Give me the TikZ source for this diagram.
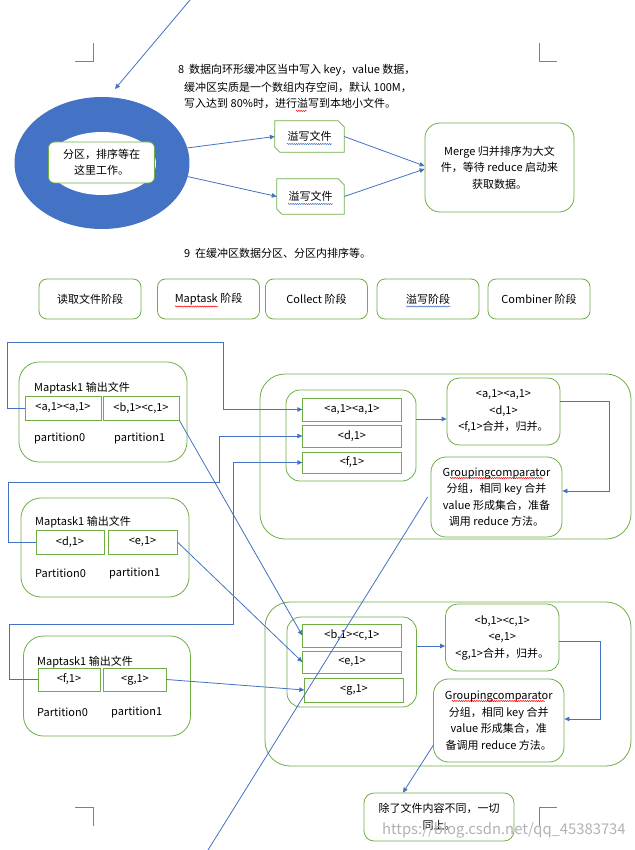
\documentclass[tikz,border=0pt]{standalone}
\usepackage{fontspec}
\setmainfont{Noto Sans CJK SC}
\usetikzlibrary{shapes.geometric,arrows.meta,decorations.pathmorphing}

\begin{document}
\begin{tikzpicture}[x=1pt,y=-1pt,
	chu/.style={font=\fontsize{11}{16.5}\selectfont,inner sep=0pt},
	khung/.style={draw=xanhla,line width=0.8pt,inner sep=0pt,align=center,chu},
	khungtron/.style={khung,rounded corners=#1},
	vienla/.style={xanhla,line width=0.8pt},
	noi/.style={xanhduong,line width=0.8pt},
	muiten/.style={noi,-{Triangle[length=5pt,width=4.5pt]}},
	gocgiay/.style={black!50,line width=0.6pt},
	gachdo/.style={red,line width=0.5pt,decorate,decoration={snake,amplitude=0.6pt,segment length=2.2pt}},
	gachxanh/.style={xanhduong,line width=0.5pt,decorate,decoration={snake,amplitude=0.6pt,segment length=2.2pt}}
	]
	\definecolor{xanhla}{RGB}{112,173,71}
	\definecolor{xanhduong}{RGB}{68,114,196}
	
	\fill[white,use as bounding box] (0,0) rectangle (634,850);
	
	%Góc giấy
	\draw[gocgiay] (75,61) -- (93,61) -- (93,43);
	\draw[gocgiay] (557,61) -- (539,61) -- (539,43);
	\draw[gocgiay] (75,807) -- (93,807) -- (93,826);
	\draw[gocgiay] (557,807) -- (539,807) -- (539,826);
	
	%Vòng đệm
	\node[ellipse,fill=xanhduong,minimum width=175pt,minimum height=132pt] (vongdem) at (102,163) {};
	\node[ellipse,fill=white,minimum width=108pt,minimum height=63pt] (vongtrong) at (102,163.5) {};
	\node[khungtron=6pt,fill=white,minimum width=106pt,minimum height=41pt] (phanvung) at (101.5,162.5) {分区，排序等在\\这里工作。};
	
	\node[chu,anchor=west] (ghichu8a) at (178,70) {8\ \ 数据向环形缓冲区当中写入 key，value 数据，};
	\node[chu,anchor=west] (ghichu8b) at (184,87) {缓冲区实质是一个数组内存空间，默认 100M，};
	\node[chu,anchor=west] (ghichu8c) at (184,103) {写入达到 80\%时，进行溢写到本地小文件。};
	\node[chu,anchor=west] (ghichu9) at (184,253) {9\ \ 在缓冲区数据分区、分区内排序等。};
	
	%Tràn ra tệp
	\node[chu,minimum width=69pt,minimum height=31pt] (tran1) at (309.5,136.5) {溢写文件};
	\node[chu,minimum width=67pt,minimum height=35pt] (tran2) at (310.5,196.5) {溢写文件};
	\draw[vienla] ([yshift=5pt]tran1.south west) -- (tran1.north west) -- ([xshift=-6pt]tran1.north east) -- ([yshift=-6pt]tran1.north east) -- (tran1.south east) -- ([xshift=5pt]tran1.south west) -- cycle;
	\draw[vienla] ([yshift=5pt]tran2.south west) -- (tran2.north west) -- ([xshift=-6pt]tran2.north east) -- ([yshift=-6pt]tran2.north east) -- (tran2.south east) -- ([xshift=5pt]tran2.south west) -- cycle;
	\node[khungtron=15pt,minimum width=149pt,minimum height=89pt] (gop) at (499.5,167.5) {Merge 归并排序为大文\\件，等待 reduce 启动来\\获取数据。};
	
	\draw[muiten] (vongdem.10) -- (tran1.west);
	\draw[muiten] (vongdem.-9) -- (tran2.west);
	\draw[muiten] (tran1.east) -- ([yshift=1.5pt]gop.west);
	\draw[muiten] (tran2.east) -- ([yshift=-1.5pt]gop.west);
	\coordinate (dautren) at (190,0);
	\coordinate (dinhvong) at (115,89);
	\draw[muiten] (dautren) -- (dinhvong);
	
	%Các giai đoạn
	\node[khungtron=8pt,minimum width=102pt,minimum height=40pt] (giaidoan1) at (90,299) {读取文件阶段};
	\node[khungtron=8pt,minimum width=102pt,minimum height=40pt] (giaidoan2) at (208.5,299) {Maptask 阶段};
	\node[khungtron=8pt,minimum width=102pt,minimum height=40pt] (giaidoan3) at (316.5,299) {Collect 阶段};
	\node[khungtron=8pt,minimum width=102pt,minimum height=40pt] (giaidoan4) at (428,299) {溢写阶段};
	\node[khungtron=8pt,minimum width=102pt,minimum height=40pt] (giaidoan5) at (539,299) {Combiner 阶段};
	
	%Maptask
	\node[khungtron=20pt,minimum width=168pt,minimum height=100pt] (maptask1) at (103,412) {};
	\node[chu,anchor=west] (tieude1) at (34,388) {Maptask1 输出文件};
	\node[khung,minimum width=76pt,minimum height=24pt] (hopa) at (63,408) {<a,1><a,1>};
	\node[khung,minimum width=76pt,minimum height=24pt] (hopb) at (141,408) {<b,1><c,1>};
	\node[chu,anchor=west] (phanvung1a) at (34,438) {partition0};
	\node[chu,anchor=west] (phanvung1b) at (114,438) {partition1};
	
	\node[khungtron=20pt,minimum width=168pt,minimum height=99pt] (maptask2) at (105,547.5) {};
	\node[chu,anchor=west] (tieude2) at (35,522) {Maptask1 输出文件};
	\node[khung,minimum width=68pt,minimum height=24pt] (hopd) at (70,542) {<d,1>};
	\node[khung,minimum width=69pt,minimum height=24pt] (hope) at (142.5,542) {<e,1>};
	\node[chu,anchor=west] (phanvung2a) at (35,573) {Partition0};
	\node[chu,anchor=west] (phanvung2b) at (109,573) {partition1};
	
	\node[khungtron=20pt,minimum width=167pt,minimum height=100pt] (maptask3) at (107,686) {};
	\node[chu,anchor=west] (tieude3) at (37,662) {Maptask1 输出文件};
	\node[khung,minimum width=62pt,minimum height=23pt] (hopf) at (69,679.5) {<f,1>};
	\node[khung,minimum width=62.5pt,minimum height=23pt] (hopg) at (135,679.5) {<g,1>};
	\node[chu,anchor=west] (phanvung3a) at (37,712) {Partition0};
	\node[chu,anchor=west] (phanvung3b) at (111,712) {partition1};
	
	%Reduce 1
	\node[khungtron=25pt,minimum width=371pt,minimum height=165pt] (rutgon1) at (445.5,456.5) {};
	\node[khungtron=14pt,minimum width=130pt,minimum height=91pt] (khoi1) at (351,435.5) {};
	\node[khung,minimum width=98.5pt,minimum height=23pt] (r1a) at (352,409.5) {<a,1><a,1>};
	\node[khung,minimum width=98.5pt,minimum height=22pt] (r2a) at (352,436) {<d,1>};
	\node[khung,minimum width=98.5pt,minimum height=21pt] (r3a) at (352,462.5) {<f,1>};
	\node[khungtron=12pt,minimum width=113pt,minimum height=67pt] (tong1) at (503.5,411.5) {<a,1><a,1>\\<d,1>\\<f,1>合并，归并。};
	\node[khungtron=15pt,minimum width=131pt,minimum height=80pt] (nhom1) at (496.5,497) {Groupingcomparator\\分组，相同 key 合并\\value 形成集合，准备\\调用 reduce 方法。};
	
	%Reduce 2
	\node[khungtron=25pt,minimum width=366pt,minimum height=164pt] (rutgon2) at (448,684) {};
	\node[khungtron=14pt,minimum width=129.5pt,minimum height=90pt] (khoi2) at (351.75,662) {};
	\node[khung,minimum width=98.5pt,minimum height=23pt] (r1b) at (352,635.5) {<b,1><c,1>};
	\node[khung,minimum width=98.5pt,minimum height=22pt] (r2b) at (352,662) {<e,1>};
	\node[khung,minimum width=98.5pt,minimum height=24pt] (r3b) at (354,690) {<g,1>};
	\node[khungtron=12pt,minimum width=113.5pt,minimum height=67pt] (tong2) at (502.25,637.5) {<b,1><c,1>\\<e,1>\\<g,1>合并，归并。};
	\node[khungtron=15pt,minimum width=130.5pt,minimum height=83pt] (nhom2) at (498.75,720.5) {Groupingcomparator\\分组，相同 key 合并\\value 形成集合，准\\备调用 reduce 方法。};
	
	\node[khungtron=10pt,minimum width=150pt,minimum height=48pt] (cuoi) at (439,817) {除了文件内容不同，一切\\同上。};
	
	%Đường nối
	\draw[muiten] (hopa.west) -- ++(-17,0) |- (223,342) |- (r1a.west);
	\draw[muiten] (hopd.west) -- ++(-27,0) |- (219,482) |- (r2a.west);
	\draw[muiten] (hopf.west) -- ++(-28,0) |- (233,624) |- (r3a.west);
	\draw[muiten] (hopb.south east) -- (r1b.west);
	\draw[muiten] (hope.east) -- (r2b.west);
	\draw[muiten] (hopg.east) -- (r3b.west);
	
	\draw[muiten] (khoi1.east |- 0,419) -- (tong1.west |- 0,419);
	\draw[muiten] (tong1.east |- 0,401) -| (609,491) -- (nhom1.east |- 0,491);
	\draw[muiten] (khoi2.east |- 0,646) -- (tong2.west |- 0,646);
	\draw[muiten] (tong2.east |- 0,641) -| (600,719) -- (nhom2.east |- 0,719);
	\draw[muiten] ([yshift=-25pt]nhom2.west) -- ([xshift=-36pt]cuoi.north);
	
	\coordinate (dauduoi) at (208,850);
	\draw[noi] (dauduoi) -- ([xshift=-3pt]nhom1.west);
	
	%Gạch chính tả
	\draw[gachdo] (296,111) -- (307,111);
	\draw[gachxanh] (287,144) -- (332,144);
	\draw[gachxanh] (288,204) -- (333,204);
	\draw[gachdo] (175,306.5) -- (218,306.5);
	\draw[gachxanh] (406,306.5) -- (450,306.5);
	\draw[gachdo] (450,478) -- (543,478);
	\draw[gachdo] (452,701) -- (545,701);
	
	\node[anchor=west,text=black!30,font=\fontsize{14.8}{14.8}\selectfont,inner sep=0pt] (dauan) at (382,830) {https://blog.csdn.net/qq\_45383734};
\end{tikzpicture}
\end{document}
